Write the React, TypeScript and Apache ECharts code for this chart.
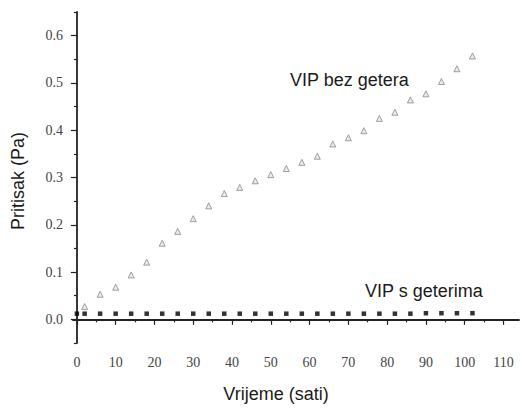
import React, { useEffect, useRef } from "react";
import * as echarts from "echarts";

const hoursBez = [2, 6, 10, 14, 18, 22, 26, 30, 34, 38, 42, 46, 50, 54, 58, 62, 66, 70, 74, 78, 82, 86, 90, 94, 98, 102];
const pressureBez = [0.027, 0.053, 0.068, 0.094, 0.121, 0.161, 0.186, 0.213, 0.24, 0.266, 0.279, 0.293, 0.306, 0.319, 0.332, 0.345, 0.371, 0.384, 0.399, 0.425, 0.438, 0.464, 0.477, 0.503, 0.53, 0.557];

const hoursGeter = [0, 2, 6, 10, 14, 18, 22, 26, 30, 34, 38, 42, 46, 50, 54, 58, 62, 66, 70, 74, 78, 82, 86, 90, 94, 98, 102];
const pressureGeter = [0.012, 0.012, 0.012, 0.012, 0.012, 0.012, 0.012, 0.012, 0.012, 0.012, 0.012, 0.012, 0.012, 0.012, 0.012, 0.012, 0.012, 0.012, 0.012, 0.012, 0.012, 0.012, 0.012, 0.013, 0.013, 0.013, 0.013];

const xMajorTicks = [0, 10, 20, 30, 40, 50, 60, 70, 80, 90, 100, 110];
const xMinorTicks = [5, 15, 25, 35, 45, 55, 65, 75, 85, 95, 105];
const yMajorTicks = [0, 0.1, 0.2, 0.3, 0.4, 0.5, 0.6];
const yMinorTicks = [-0.05, 0.05, 0.15, 0.25, 0.35, 0.45, 0.55, 0.65];

const xName = "Vrijeme (sati)";
const yName = "Pritisak (Pa)";
const labelBez = "VIP bez getera";
const labelGeter = "VIP s geterima";

export default function App() {
  const ref = useRef<HTMLDivElement>(null);
  useEffect(() => {
    if (!ref.current) return;
    const chart = echarts.init(ref.current, undefined, { renderer: "svg" });
    const axisColor = "#222";
    const tickLabel = { fontFamily: "'Liberation Serif', 'Times New Roman', serif", fontSize: 14, color: "#444" };
    const sansText = { fontFamily: "'Liberation Sans', Arial, sans-serif", fontSize: 18, fill: "#1a1a1a" };
    chart.setOption({
      animation: false,
      backgroundColor: "#fff",
      grid: { left: 73, right: 2, top: 12, bottom: 66 },
      xAxis: [
        {
          type: "value",
          position: "bottom",
          min: -1,
          max: 114,
          splitLine: { show: false },
          axisLine: { show: true, lineStyle: { color: axisColor, width: 1.8 } },
          axisTick: { show: true, customValues: xMajorTicks, length: 5.5, lineStyle: { color: axisColor, width: 1.2 } },
          axisLabel: { show: true, customValues: xMajorTicks, margin: 12, ...tickLabel },
        },
        {
          type: "value",
          position: "bottom",
          min: -1,
          max: 114,
          splitLine: { show: false },
          axisLine: { show: false },
          axisTick: { show: true, customValues: xMinorTicks, length: 3, lineStyle: { color: axisColor, width: 1.2 } },
          axisLabel: { show: false },
        },
      ],
      yAxis: [
        {
          type: "value",
          position: "left",
          min: -0.05,
          max: 0.65,
          splitLine: { show: false },
          axisLine: { show: true, lineStyle: { color: axisColor, width: 1.8 } },
          axisTick: { show: true, customValues: yMajorTicks, length: 6, lineStyle: { color: axisColor, width: 1.2 } },
          axisLabel: {
            show: true,
            customValues: yMajorTicks,
            margin: 10,
            formatter: (v: number) => v.toFixed(1),
            ...tickLabel,
          },
        },
        {
          type: "value",
          position: "left",
          min: -0.05,
          max: 0.65,
          splitLine: { show: false },
          axisLine: { show: false },
          axisTick: { show: true, customValues: yMinorTicks, length: 3, lineStyle: { color: axisColor, width: 1.2 } },
          axisLabel: { show: false },
        },
      ],
      series: [
        {
          name: labelBez,
          type: "scatter",
          xAxisIndex: 0,
          yAxisIndex: 0,
          symbol: "triangle",
          symbolSize: 6,
          itemStyle: { color: "#e6e6e6", borderColor: "#8a8a8a", borderWidth: 1 },
          data: hoursBez.map((h, i) => [h, pressureBez[i]]),
        },
        {
          name: labelGeter,
          type: "scatter",
          xAxisIndex: 0,
          yAxisIndex: 0,
          symbol: "rect",
          symbolSize: 4.5,
          itemStyle: { color: "#000" },
          data: hoursGeter.map((h, i) => [h, pressureGeter[i]]),
        },
      ],
      graphic: [
        {
          type: "text",
          x: 290,
          y: 80,
          style: { text: labelBez, ...sansText, textAlign: "left", textVerticalAlign: "middle" },
        },
        {
          type: "text",
          x: 365,
          y: 291,
          style: { text: labelGeter, ...sansText, textAlign: "left", textVerticalAlign: "middle" },
        },
        {
          type: "text",
          x: 276,
          y: 394,
          style: { text: xName, ...sansText, textAlign: "center", textVerticalAlign: "middle" },
        },
        {
          type: "text",
          x: 18,
          y: 181,
          rotation: Math.PI / 2,
          style: { text: yName, ...sansText, textAlign: "center", textVerticalAlign: "middle" },
        },
      ],
    });
    return () => chart.dispose();
  }, []);
  return <div ref={ref} style={{ position: "fixed", left: 0, top: 0, width: 521, height: 409 }} />;
}
